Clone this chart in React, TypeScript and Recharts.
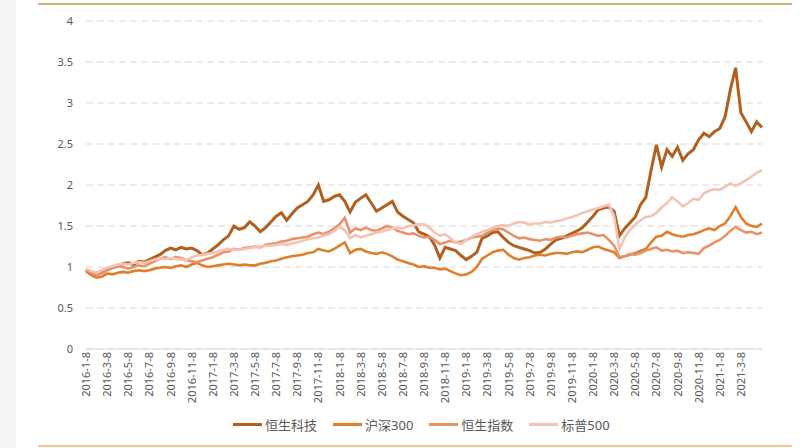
import React from 'react';
import { LineChart, Line, XAxis, YAxis, CartesianGrid } from 'recharts';

// Half-monthly observation dates from 2016-1-8 to 2021-5-8
const MONTH_STEPS = 129;
const DATES: string[] = [];
for (let i = 0; i < MONTH_STEPS; i++) {
  const m = Math.floor(i / 2);
  const year = 2016 + Math.floor(m / 12);
  const month = (m % 12) + 1;
  DATES.push(`${year}-${month}-${i % 2 === 0 ? 8 : 23}`);
}

const TICK_LABELS = [
  '2016-1-8', '2016-3-8', '2016-5-8', '2016-7-8', '2016-9-8', '2016-11-8',
  '2017-1-8', '2017-3-8', '2017-5-8', '2017-7-8', '2017-9-8', '2017-11-8',
  '2018-1-8', '2018-3-8', '2018-5-8', '2018-7-8', '2018-9-8', '2018-11-8',
  '2019-1-8', '2019-3-8', '2019-5-8', '2019-7-8', '2019-9-8', '2019-11-8',
  '2020-1-8', '2020-3-8', '2020-5-8', '2020-7-8', '2020-9-8', '2020-11-8',
  '2021-1-8', '2021-3-8',
];

const Y_TICKS = [0, 0.5, 1, 1.5, 2, 2.5, 3, 3.5, 4];

const HSTECH = [
  0.96, 0.92, 0.90, 0.93, 0.97, 0.99, 1.01, 1.04, 1.05, 1.03,
  1.07, 1.06, 1.09, 1.12, 1.15, 1.20, 1.23, 1.21, 1.24, 1.22,
  1.23, 1.20, 1.15, 1.17, 1.22, 1.27, 1.33, 1.38, 1.50, 1.46,
  1.48, 1.55, 1.50, 1.43, 1.48, 1.55, 1.62, 1.66, 1.57, 1.65,
  1.72, 1.76, 1.80, 1.88, 2.00, 1.80, 1.82, 1.86, 1.88, 1.80,
  1.67, 1.79, 1.84, 1.88, 1.78, 1.68, 1.72, 1.76, 1.80, 1.67,
  1.62, 1.58, 1.54, 1.43, 1.40, 1.37, 1.27, 1.11, 1.24, 1.22,
  1.20, 1.14, 1.09, 1.13, 1.18, 1.35, 1.38, 1.42, 1.43, 1.36,
  1.30, 1.26, 1.24, 1.22, 1.20, 1.17, 1.18, 1.22, 1.28, 1.33,
  1.35, 1.38, 1.41, 1.44, 1.48, 1.55, 1.62, 1.70, 1.72, 1.73,
  1.68, 1.38, 1.47, 1.54, 1.61, 1.76, 1.85, 2.18, 2.49, 2.22,
  2.43, 2.35, 2.46, 2.30, 2.38, 2.43, 2.55, 2.63, 2.59, 2.65,
  2.69, 2.83, 3.16, 3.43, 2.88, 2.77, 2.65, 2.77, 2.70,
];

const CSI300 = [
  0.95, 0.90, 0.87, 0.88, 0.92, 0.91, 0.93, 0.94, 0.93, 0.95,
  0.96, 0.95, 0.96, 0.98, 0.99, 1.00, 0.99, 1.01, 1.02, 1.00,
  1.03, 1.05, 1.02, 1.00, 1.01, 1.02, 1.03, 1.04, 1.03, 1.02,
  1.03, 1.02, 1.02, 1.04, 1.05, 1.07, 1.08, 1.10, 1.12, 1.13,
  1.14, 1.15, 1.17, 1.18, 1.22, 1.20, 1.19, 1.22, 1.26, 1.30,
  1.17, 1.21, 1.22, 1.19, 1.17, 1.16, 1.18, 1.16, 1.13, 1.09,
  1.07, 1.05, 1.03, 1.00, 1.01, 0.99, 0.99, 0.97, 0.98, 0.95,
  0.92, 0.90, 0.91, 0.94, 1.00, 1.10, 1.14, 1.18, 1.20, 1.21,
  1.15, 1.11, 1.09, 1.11, 1.12, 1.14, 1.15, 1.14, 1.16, 1.17,
  1.17, 1.16, 1.18, 1.19, 1.18, 1.21, 1.24, 1.25, 1.22, 1.20,
  1.18, 1.11, 1.13, 1.15, 1.17, 1.20, 1.22, 1.30, 1.37, 1.38,
  1.43, 1.40, 1.38, 1.37, 1.39, 1.40, 1.42, 1.45, 1.47, 1.45,
  1.50, 1.53, 1.62, 1.73, 1.61, 1.53, 1.50, 1.49, 1.53,
];

const HSI = [
  0.97, 0.93, 0.90, 0.92, 0.96, 0.99, 1.01, 1.00, 0.98, 1.00,
  1.02, 1.01, 1.04, 1.07, 1.10, 1.12, 1.10, 1.12, 1.11, 1.08,
  1.07, 1.06, 1.08, 1.10, 1.12, 1.15, 1.18, 1.19, 1.22, 1.21,
  1.23, 1.24, 1.25, 1.24, 1.27, 1.28, 1.29, 1.31, 1.32, 1.34,
  1.35, 1.36, 1.37, 1.40, 1.42, 1.40, 1.43, 1.47, 1.52, 1.60,
  1.42, 1.47, 1.45, 1.48, 1.45, 1.44, 1.47, 1.50, 1.48, 1.44,
  1.42, 1.40, 1.41, 1.38, 1.36, 1.37, 1.33, 1.28, 1.30, 1.32,
  1.30, 1.31, 1.33, 1.36, 1.37, 1.38, 1.42, 1.45, 1.47, 1.46,
  1.42, 1.38, 1.35, 1.36, 1.34, 1.33, 1.32, 1.34, 1.33, 1.36,
  1.37, 1.36, 1.38, 1.40, 1.41, 1.42, 1.40, 1.38, 1.39, 1.33,
  1.26, 1.12, 1.13, 1.16, 1.15, 1.17, 1.20, 1.22, 1.24, 1.20,
  1.21, 1.19, 1.20, 1.17, 1.18, 1.17, 1.16, 1.23, 1.26, 1.30,
  1.33, 1.38, 1.44, 1.49, 1.45, 1.42, 1.43, 1.40, 1.42,
];

const SPX = [
  0.98, 0.95, 0.93, 0.96, 0.99, 1.01, 1.03, 1.04, 1.03, 1.05,
  1.06, 1.05, 1.07, 1.09, 1.10, 1.10, 1.11, 1.10, 1.09, 1.08,
  1.12, 1.14, 1.15, 1.16, 1.17, 1.19, 1.21, 1.22, 1.21, 1.21,
  1.22, 1.23, 1.24, 1.25, 1.26, 1.26, 1.27, 1.28, 1.27, 1.29,
  1.30, 1.32, 1.34, 1.35, 1.36, 1.38, 1.40, 1.44, 1.49, 1.45,
  1.35, 1.39, 1.36, 1.38, 1.40, 1.42, 1.43, 1.45, 1.47, 1.48,
  1.47, 1.50, 1.51, 1.52, 1.52, 1.48, 1.42, 1.38, 1.40, 1.35,
  1.30, 1.28, 1.33, 1.37, 1.40, 1.43, 1.45, 1.48, 1.50, 1.51,
  1.50, 1.53, 1.55, 1.54, 1.52, 1.53, 1.53, 1.55, 1.54, 1.56,
  1.57, 1.59, 1.61, 1.63, 1.66, 1.68, 1.70, 1.72, 1.74, 1.76,
  1.62, 1.22, 1.36, 1.45, 1.52, 1.57, 1.61, 1.62, 1.66, 1.73,
  1.78, 1.85, 1.80, 1.74, 1.78, 1.83, 1.82, 1.90, 1.93, 1.95,
  1.94, 1.98, 2.02, 1.99, 2.02, 2.06, 2.10, 2.15, 2.18,
];

const SERIES = [
  { key: 'hstech', name: '恒生科技', values: HSTECH, color: '#b0601f', width: 3 },
  { key: 'csi300', name: '沪深300', values: CSI300, color: '#df7f2c', width: 2.6 },
  { key: 'hsi', name: '恒生指数', values: HSI, color: '#e8926a', width: 2.6 },
  { key: 'spx', name: '标普500', values: SPX, color: '#f4c3b6', width: 2.6 },
];

const data = DATES.map((d, i) => {
  const row: Record<string, string | number> = { date: d };
  SERIES.forEach((s) => {
    row[s.key] = s.values[i];
  });
  return row;
});

const FONT = '"Noto Sans", "Noto Sans CJK SC", sans-serif';

const XTick = (props: any) => {
  const { x, y, payload } = props;
  if (!TICK_LABELS.includes(payload.value)) return null;
  return (
    <text
      x={x}
      y={y}
      dy={4}
      transform={`rotate(-90, ${x}, ${y})`}
      textAnchor="end"
      fontSize={11}
      fill="#595959"
      fontFamily={FONT}
    >
      {payload.value}
    </text>
  );
};

export default function App() {
  return (
    <div style={{ position: 'absolute', left: 0, top: 0, width: 800, height: 448, background: '#fff', overflow: 'hidden' }}>
      <div style={{ position: 'absolute', left: 0, top: 0, width: 16, height: 448, background: '#f5f3f3' }} />
      <div style={{ position: 'absolute', left: 38, top: 3, width: 754, height: 2, background: '#d6b07e' }} />
      <div style={{ position: 'absolute', left: 38, top: 445, width: 754, height: 2, background: '#f2c594' }} />
      <div style={{ position: 'absolute', left: 0, top: 0 }}>
        <LineChart width={800} height={448} data={data} margin={{ top: 21, right: 38, left: 0, bottom: 0 }}>
          <CartesianGrid vertical={false} stroke="#d9d9d9" strokeDasharray="7 4" />
          <XAxis
            dataKey="date"
            interval={3}
            height={99}
            tickLine={false}
            tickSize={0}
            tickMargin={3}
            axisLine={{ stroke: '#d9d9d9' }}
            tick={<XTick />}
          />
          <YAxis
            type="number"
            domain={[0, 4]}
            ticks={Y_TICKS}
            width={86}
            axisLine={false}
            tickLine={false}
            tickSize={0}
            tickMargin={13}
            tick={{ fontSize: 11, fill: '#595959', fontFamily: FONT }}
            tickFormatter={(v: number) => String(v)}
          />
          {SERIES.map((s) => (
            <Line
              key={s.key}
              type="linear"
              dataKey={s.key}
              name={s.name}
              stroke={s.color}
              strokeWidth={s.width}
              dot={false}
              isAnimationActive={false}
            />
          ))}
        </LineChart>
      </div>
      <div
        style={{
          position: 'absolute',
          left: 233,
          top: 415,
          display: 'flex',
          alignItems: 'center',
          fontFamily: FONT,
          fontSize: 13,
          color: '#595959',
          whiteSpace: 'nowrap',
        }}
      >
        {SERIES.map((s) => (
          <div key={s.key} style={{ display: 'flex', alignItems: 'center', marginRight: 16 }}>
            <div style={{ width: 29, height: 3, background: s.color, marginRight: 3 }} />
            <span>{s.name}</span>
          </div>
        ))}
      </div>
    </div>
  );
}
